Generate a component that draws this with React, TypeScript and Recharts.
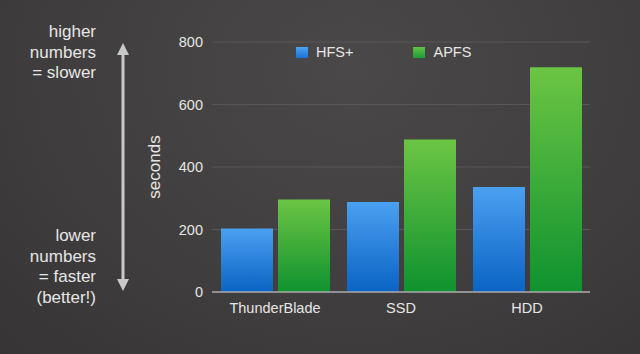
import React from 'react';
import { Bar, BarChart, CartesianGrid, XAxis, YAxis } from 'recharts';

const drives = ['ThunderBlade', 'SSD', 'HDD'];
const hfsSeconds = [203, 288, 336];
const apfsSeconds = [296, 488, 719];
const yTicks = [0, 200, 400, 600, 800];

const seriesNames = { hfs: 'HFS+', apfs: 'APFS' };

const data = drives.map((drive, i) => ({
  drive,
  hfs: hfsSeconds[i],
  apfs: apfsSeconds[i],
}));

const textColor = '#e6e6e6';
const fontFamily = '"Liberation Sans", Arial, Helvetica, sans-serif';

function LegendBox() {
  const items = [
    { label: seriesNames.hfs, from: '#4da3f2', to: '#1a72d6' },
    { label: seriesNames.apfs, from: '#5fc242', to: '#1f9e35' },
  ];
  return (
    <div style={{ position: 'absolute', left: 296, top: 43, display: 'flex', gap: 60, fontFamily, fontSize: 14.5, color: textColor, lineHeight: '18px' }}>
      {items.map(it => (
        <div key={it.label} style={{ display: 'flex', alignItems: 'center' }}>
          <span
            style={{
              width: 12,
              height: 11,
              marginRight: 8,
              background: `linear-gradient(${it.from}, ${it.to})`,
              display: 'inline-block',
            }}
          />
          {it.label}
        </div>
      ))}
    </div>
  );
}

export default function App() {
  return (
    <div
      style={{
        position: 'absolute',
        left: 0,
        top: 0,
        width: 640,
        height: 354,
        overflow: 'hidden',
        background: 'radial-gradient(ellipse at 55% 20%, #4a4848 0%, #403e3e 55%, #363434 100%)',
        fontFamily,
      }}
    >
      {/* side note on the left */}
      <div style={{ position: 'absolute', right: 544, top: 22, textAlign: 'right', color: textColor, fontSize: 17, lineHeight: '20.5px' }}>
        higher<br />numbers<br />= slower
      </div>
      <div style={{ position: 'absolute', right: 544, top: 226, textAlign: 'right', color: textColor, fontSize: 17, lineHeight: '20.5px' }}>
        lower<br />numbers<br />= faster<br />(better!)
      </div>
      <svg style={{ position: 'absolute', left: 0, top: 0 }} width={640} height={354}>
        <rect x={121.5} y={52} width={3} height={228} fill="#c9c9c9" />
        <polygon points="123,43 117,55 129,55" fill="#c9c9c9" />
        <polygon points="123,291 117,279 129,279" fill="#c9c9c9" />
      </svg>

      <div style={{ position: 'absolute', left: 0, top: 0 }}>
        <BarChart
          width={640}
          height={354}
          data={data}
          margin={{ top: 42, right: 50, bottom: 0, left: 140 }}
          barGap={5}
          barCategoryGap={9}
        >
          <defs>
            <linearGradient id="gHfs" x1="0" y1="0" x2="0" y2="1">
              <stop offset="0%" stopColor="#4aa0f0" />
              <stop offset="100%" stopColor="#0b63c4" />
            </linearGradient>
            <linearGradient id="gApfs" x1="0" y1="0" x2="0" y2="1">
              <stop offset="0%" stopColor="#6cc544" />
              <stop offset="100%" stopColor="#0f922f" />
            </linearGradient>
          </defs>
          <CartesianGrid vertical={false} stroke="#595757" strokeWidth={1} />
          <XAxis
            dataKey="drive"
            height={62}
            axisLine={{ stroke: '#a8a8a8', strokeWidth: 1.5 }}
            tickLine={false}
            tickMargin={5}
            tick={{ fill: textColor, fontSize: 14.5, fontFamily }}
          />
          <YAxis
            width={72}
            domain={[0, 800]}
            ticks={yTicks}
            axisLine={false}
            tickLine={false}
            tickSize={0}
            tickMargin={9}
            tick={{ fill: textColor, fontSize: 14.5, fontFamily }}
            label={{
              value: 'seconds',
              angle: -90,
              position: 'insideLeft',
              offset: 14,
              style: { fill: textColor, fontSize: 17, fontFamily, textAnchor: 'middle' },
            }}
          />
          <Bar dataKey="hfs" name={seriesNames.hfs} fill="url(#gHfs)" isAnimationActive={false} />
          <Bar dataKey="apfs" name={seriesNames.apfs} fill="url(#gApfs)" isAnimationActive={false} />
        </BarChart>
      </div>
      <LegendBox />
    </div>
  );
}
